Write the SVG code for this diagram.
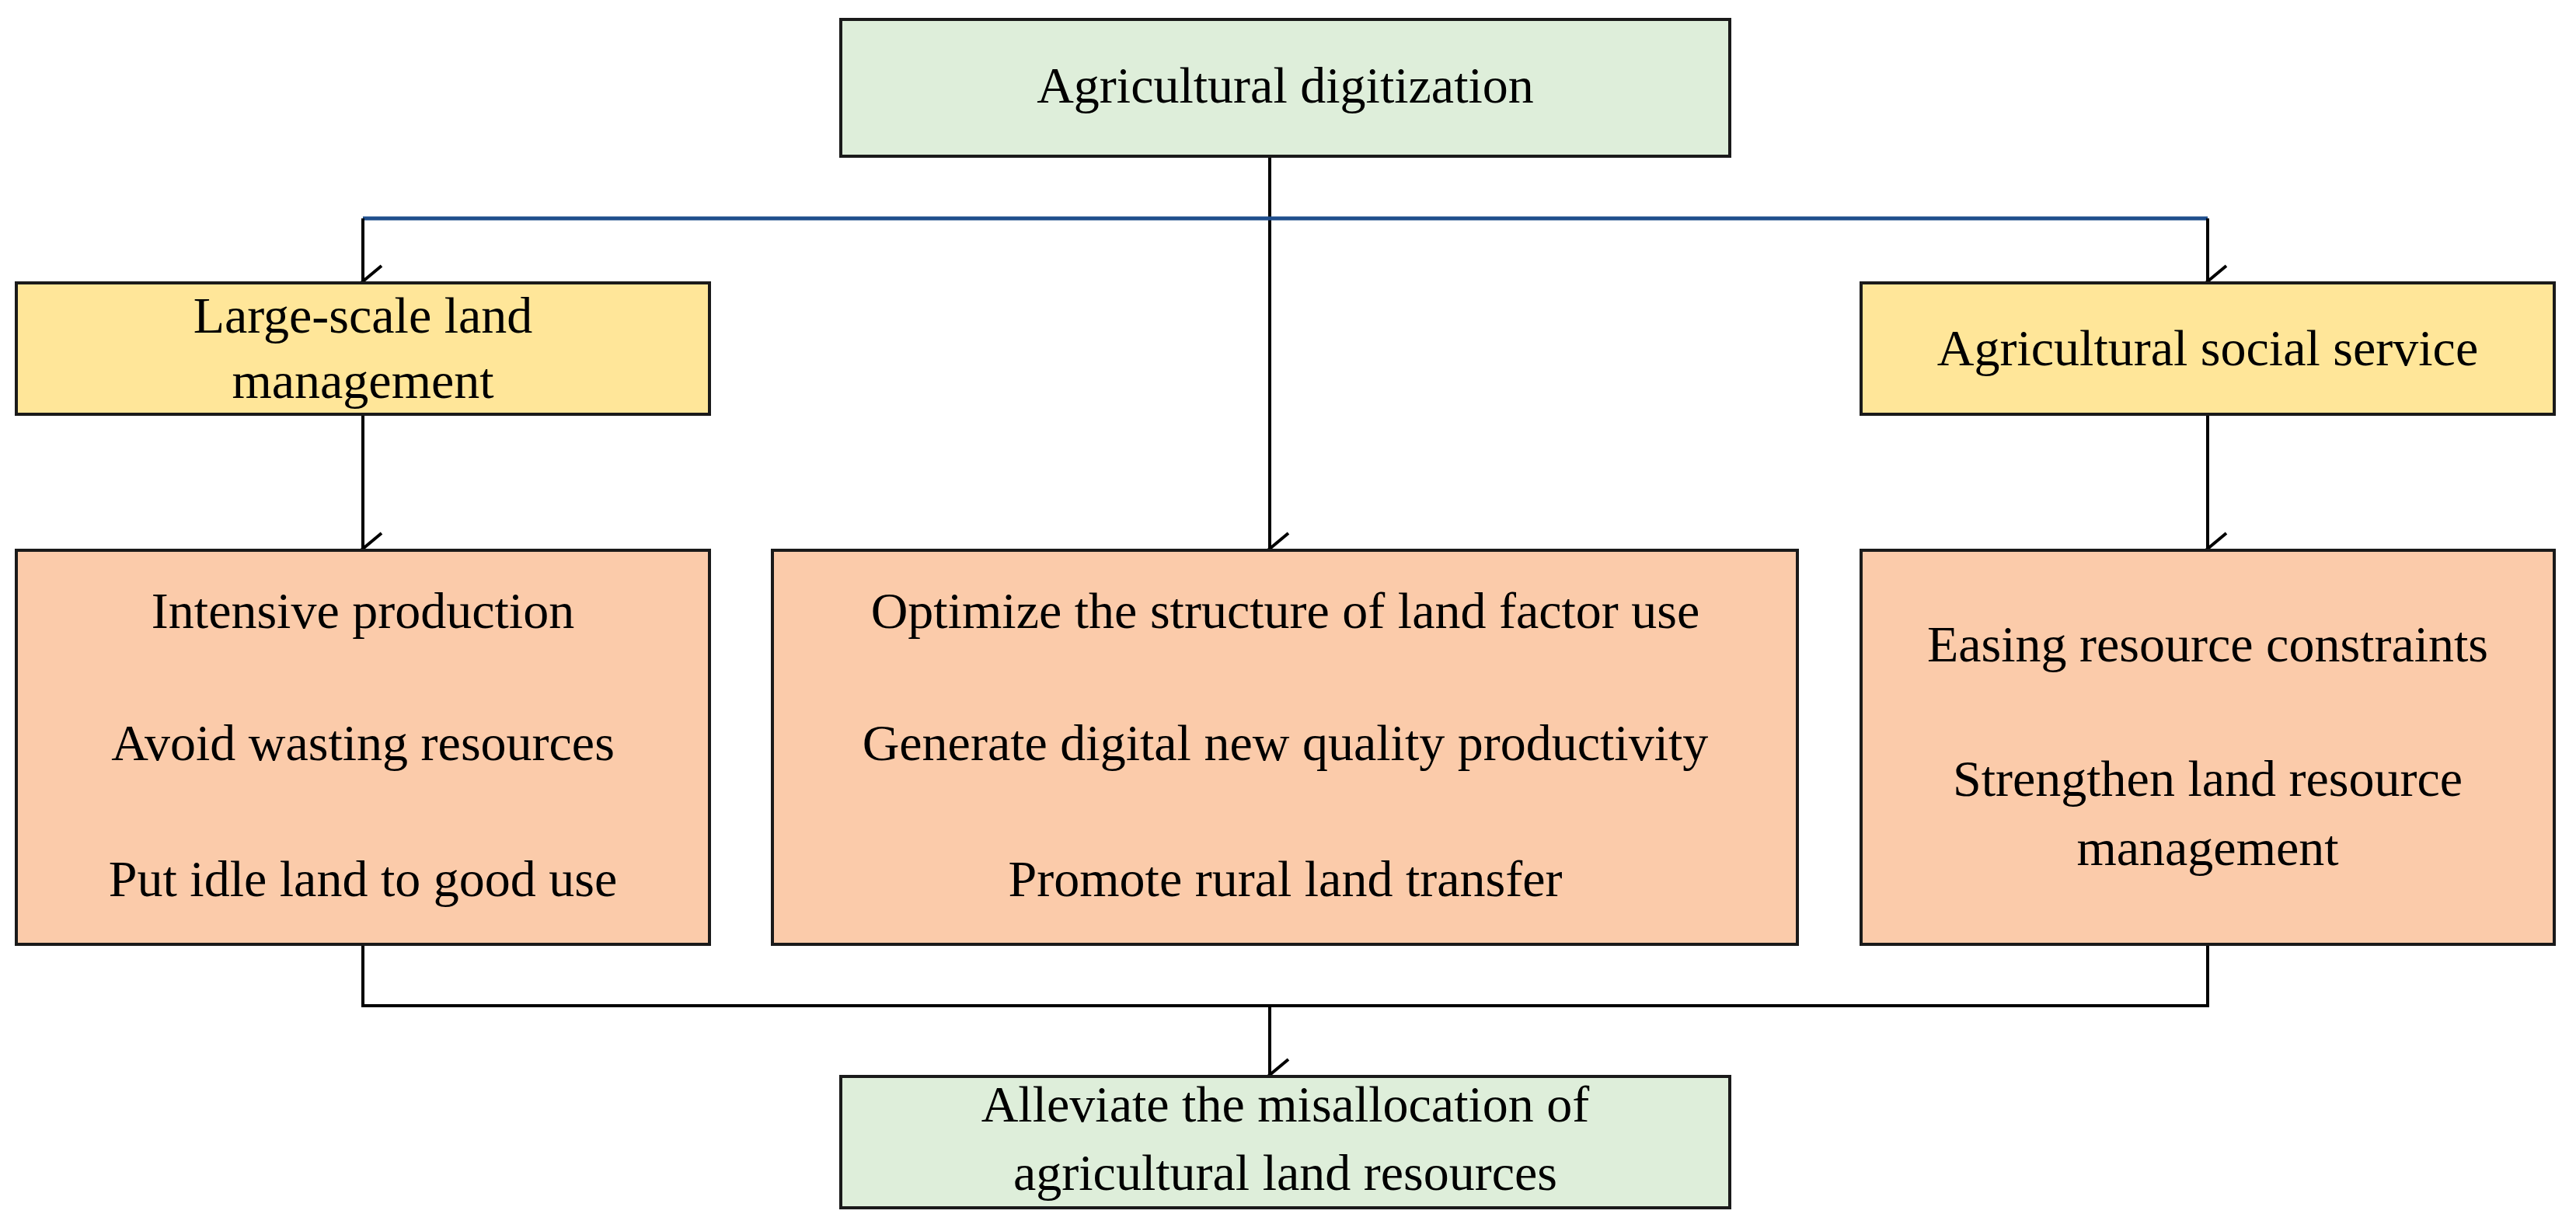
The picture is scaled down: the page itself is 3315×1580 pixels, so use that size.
<svg xmlns="http://www.w3.org/2000/svg" width="3315" height="1580" viewBox="0 0 3315 1580">
<style>
.b{stroke:#1a1a1a;stroke-width:4}
.g{fill:#DEEEDA}.y{fill:#FFE699}.o{fill:#FBCBAA}
text{font-family:"Liberation Serif","Times New Roman",serif;font-size:66px;fill:#000;text-anchor:middle}
.c{fill:none;stroke:#000;stroke-width:4}
</style>
<defs><marker id="a" markerUnits="userSpaceOnUse" markerWidth="50" markerHeight="40" refX="24" refY="36" orient="auto-start-reverse" viewBox="0 0 48 40"><path d="M4 12 L24 36 L44 12" fill="none" stroke="#000" stroke-width="4"/></marker></defs>
<rect width="3315" height="1580" fill="#fff"/>
<g id="connectors">
<path class="c" d="M1634 201 V706" marker-end="url(#a)"/>
<path d="M467 281 H2841" fill="none" stroke="#1F4E8C" stroke-width="5"/>
<path class="c" d="M467 281 V362" marker-end="url(#a)"/>
<path class="c" d="M2841 281 V362" marker-end="url(#a)"/>
<path class="c" d="M467 533 V706" marker-end="url(#a)"/>
<path class="c" d="M2841 533 V706" marker-end="url(#a)"/>
<path class="c" d="M467 1215 V1294 H2841 V1215"/>
<path class="c" d="M1634 1294 V1383" marker-end="url(#a)"/>
</g>
<g id="top"><rect class="b g" x="1082" y="25" width="1144" height="176"/><text x="1654" y="132">Agricultural digitization</text></g>
<g id="lslm"><rect class="b y" x="21" y="364" width="892" height="169"/><text x="467" y="428">Large-scale land</text><text x="467" y="512">management</text></g>
<g id="ass"><rect class="b y" x="2395" y="364" width="892" height="169"/><text x="2841" y="470">Agricultural social service</text></g>
<g id="left"><rect class="b o" x="21" y="708" width="892" height="507"/><text x="467" y="808">Intensive production</text><text x="467" y="978">Avoid wasting resources</text><text x="467" y="1153">Put idle land to good use</text></g>
<g id="mid"><rect class="b o" x="994" y="708" width="1319" height="507"/><text x="1654" y="808">Optimize the structure of land factor use</text><text x="1654" y="978">Generate digital new quality productivity</text><text x="1654" y="1153">Promote rural land transfer</text></g>
<g id="right"><rect class="b o" x="2395" y="708" width="892" height="507"/><text x="2841" y="851">Easing resource constraints</text><text x="2841" y="1024">Strengthen land resource</text><text x="2841" y="1113">management</text></g>
<g id="bottom"><rect class="b g" x="1082" y="1385" width="1144" height="169"/><text x="1654" y="1443">Alleviate the misallocation of</text><text x="1654" y="1531">agricultural land resources</text></g>
</svg>
